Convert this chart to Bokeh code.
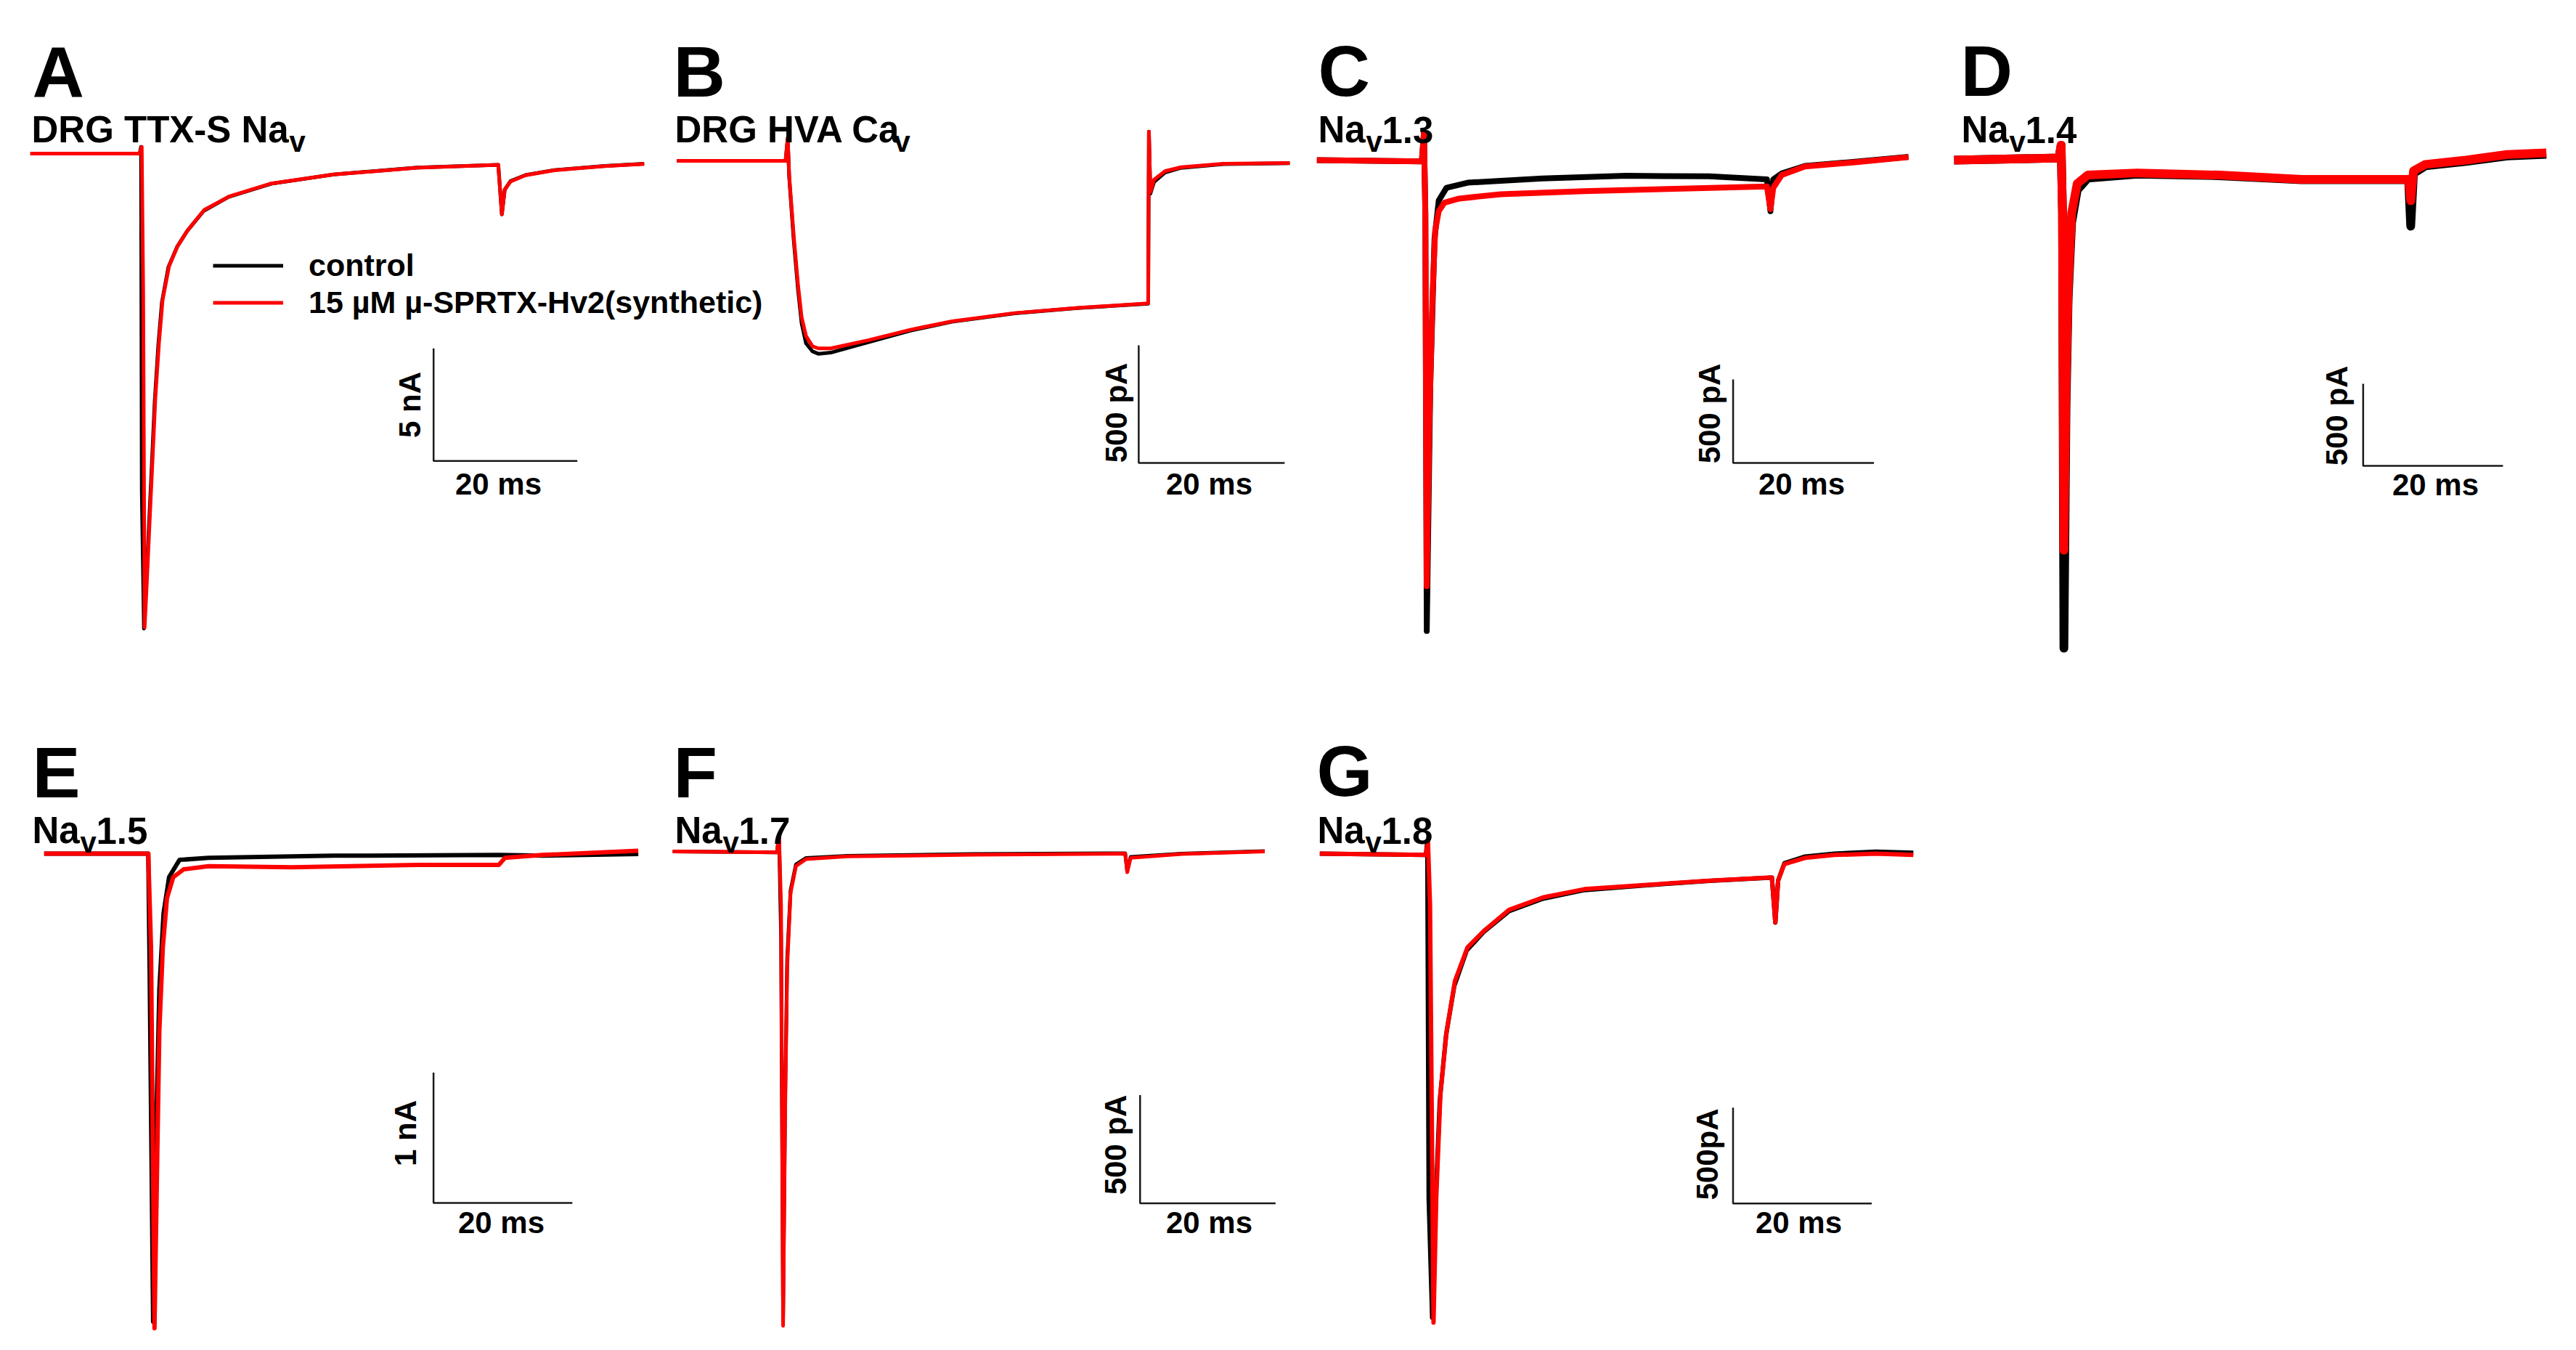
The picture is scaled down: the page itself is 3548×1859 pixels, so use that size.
import math
from bokeh.plotting import figure
from bokeh.models import Range1d, Legend, LegendItem
from bokeh.embed import file_html
from bokeh.resources import INLINE
from bokeh.core.properties import value

# ---------------- data (time in ms, current in nA or pA) ----------------
# A: DRG TTX-S Nav (nA)
A_tox_t = [0, 15.2, 15.5, 15.7, 15.9, 16.2, 16.6, 17.0, 17.4, 17.9, 18.4, 19.3, 20.5, 21.9, 24.2, 27.7, 33.5, 42.2, 53.8, 65.1, 65.6, 66.0, 66.8, 68.9, 72.9, 79.9, 85.4]
A_tox_i = [0, 0, 0.3, -6.1, -21.05, -19.1, -16.3, -13.6, -10.8, -8.4, -6.5, -5.0, -4.1, -3.4, -2.5, -1.9, -1.33, -0.93, -0.63, -0.5, -2.7, -1.6, -1.24, -0.96, -0.74, -0.56, -0.46]
A_ctl_t = [0, 15.2, 15.4, 15.5, 15.8, 16.1, 16.5, 16.9, 17.3, 17.8, 18.3, 19.2, 20.4, 21.8, 24.1, 27.6, 33.5, 42.2, 53.8, 65.1, 65.6, 66.0, 66.8, 68.9, 72.9, 79.9, 85.4]
A_ctl_i = [0, 0, 0.3, -15.0, -21.1, -19.3, -16.5, -13.8, -11.0, -8.5, -6.6, -5.05, -4.15, -3.45, -2.55, -1.92, -1.34, -0.93, -0.62, -0.5, -2.7, -1.6, -1.22, -0.95, -0.73, -0.55, -0.45]

# B: DRG HVA Cav (pA)
B_t = [0, 14.9, 15.2, 15.4, 16.0, 16.6, 17.1, 17.7, 18.6, 19.4, 21.1, 26.3, 32.0, 37.7, 46.3, 54.9, 64.6, 64.7, 64.9, 65.4, 66.9, 69.1, 74.9, 84.0]
B_tox_i = [0, 0, 97, -62, -310, -523, -664, -744, -788, -797, -797, -762, -718, -682, -647, -625, -606, 124, -133, -80, -44, -27, -12, -9]
B_ctl_i = [0, 0, 97, -70, -330, -545, -690, -775, -810, -820, -815, -770, -722, -684, -648, -626, -607, 124, -140, -90, -50, -30, -14, -10]

# C: Nav1.3 (pA)
C_tox_t = [0, 14.9, 15.2, 15.4, 15.6, 15.96, 16.4, 16.8, 17.3, 18.1, 20.2, 26.1, 37.9, 49.8, 63.9, 64.4, 64.8, 66.0, 69.3, 76.4, 84.0]
C_tox_i = [0, -8, 166, -319, -2551, -1594, -829, -421, -306, -255, -230, -204, -186, -173, -158, -293, -166, -89, -38, -13, 18]
C_ctl_t = [0, 14.9, 15.2, 15.4, 15.6, 16.1, 16.7, 17.3, 18.4, 21.4, 32.0, 43.9, 55.7, 63.9, 64.4, 64.8, 66.0, 69.3, 76.4, 84.0]
C_ctl_i = [0, -8, 166, -319, -2819, -1339, -472, -242, -166, -135, -110, -94, -97, -115, -306, -115, -80, -35, -10, 20]

# D: Nav1.4 (pA)
D_t = [0, 15.0, 15.3, 15.5, 15.7, 16.0, 16.3, 16.8, 17.6, 19.1, 26.2, 37.9, 49.7, 65.0, 65.3, 65.7, 67.4, 73.2, 79.1, 84.7]
D_tox_i = [0, 13, 91, -325, -2377, -1364, -792, -325, -143, -91, -78, -91, -117, -117, -247, -65, -26, 0, 34, 44]
D_ctl_i = [0, 13, 91, -325, -2974, -1500, -850, -380, -182, -110, -85, -95, -120, -120, -403, -80, -35, -8, 25, 35]

# E: Nav1.5 (nA)
E_tox_t = [0, 15.0, 15.4, 15.9, 16.3, 16.6, 17.1, 17.7, 18.6, 20.1, 23.7, 35.7, 53.8, 65.5, 66.4, 71.8, 85.6]
E_tox_i = [0, 0, -0.72, -3.64, -2.32, -1.36, -0.72, -0.34, -0.18, -0.12, -0.096, -0.105, -0.086, -0.086, -0.032, -0.01, 0.022]
E_ctl_t = [0, 15.0, 15.2, 15.7, 16.2, 16.6, 17.2, 18.0, 19.5, 23.7, 41.7, 65.5, 71.8, 85.6]
E_ctl_i = [0, 0, -0.91, -3.59, -2.0, -1.04, -0.46, -0.18, -0.048, -0.032, -0.016, -0.01, -0.016, -0.003]

# F: Nav1.7 (pA)
F_t = [0, 15.4, 15.7, 16.0, 16.3, 16.6, 16.9, 17.4, 18.2, 19.7, 25.8, 44.3, 66.8, 67.1, 67.6, 75.1, 87.4]
F_tox_i = [0, -4, 77, -250, -2192, -1212, -538, -192, -67, -35, -23, -15, -10, -96, -29, -12, 0]
F_ctl_i = [0, -4, 77, -400, -2150, -1150, -500, -180, -60, -30, -20, -12, -8, -90, -25, -10, 2]

# G: Nav1.8 (pA)
G_tox_t = [0, 15.3, 15.6, 15.9, 16.4, 16.8, 17.4, 18.3, 19.5, 21.3, 23.7, 27.3, 32.2, 38.2, 47.2, 56.2, 65.2, 65.7, 66.1, 67.0, 70.0, 74.2, 80.2, 85.6]
G_tox_i = [0, -7, 65, -272, -2446, -1793, -1250, -924, -663, -489, -402, -293, -228, -185, -163, -141, -124, -359, -141, -54, -22, -7, 0, -7]
G_ctl_t = [0, 15.3, 15.5, 15.7, 16.2, 16.7, 17.3, 18.2, 19.4, 21.2, 23.6, 27.3, 32.2, 38.2, 47.2, 56.2, 65.2, 65.7, 66.1, 67.0, 70.0, 74.2, 80.2, 85.6]
G_ctl_i = [0, -7, 65, -1800, -2420, -1820, -1290, -950, -690, -505, -410, -300, -235, -190, -165, -142, -125, -360, -140, -50, -15, 0, 10, 5]

panel_letters = ["A", "B", "C", "D", "E", "F", "G"]
title_main = ["DRG TTX-S Na", "DRG HVA Ca", "Na", "Na", "Na", "Na", "Na"]
title_suffix = ["1.3", "1.4", "1.5", "1.7", "1.8"]
amp_labels = ["5 nA", "500 pA", "500 pA", "500 pA", "1 nA", "500 pA", "500pA"]
amp_values = [5, 500, 500, 500, 1, 500, 500]
time_label = "20 ms"
time_bar = 20
legend_labels = ["control", "15 µM µ-SPRTX-Hv2(synthetic)"]

# ---------------- layout (page pixels; the page has no body margin) ----------------
W, H = 3544, 1855
M = 0
# per panel: page x of t=0, px per ms, page y of I=0, px per current unit
geom = {
    "A": (41.3, 9.9, 211, 31.0),
    "B": (931.7, 10.05, 221, 0.324),
    "C": (1813.3, 9.7, 220, 0.23),
    "D": (2691.0, 9.63, 220, 0.226),
    "E": (60.3, 9.56, 1175, 179.5),
    "F": (926.0, 9.33, 1172, 0.298),
    "G": (1817.3, 9.55, 1175, 0.264),
}
# scale bar corner (data units of each panel)
sbar = {"A": (56.1, -13.65), "B": (63.3, -1284), "C": (59.1, -1813), "D": (58.5, -1863),
        "E": (56.1, -2.68), "F": (69.0, -1626), "G": (59.6, -1825)}
traces = {
    "A": (A_ctl_t, A_ctl_i, A_tox_t, A_tox_i, 5),
    "B": (B_t, B_ctl_i, B_t, B_tox_i, 5),
    "C": (C_ctl_t, C_ctl_i, C_tox_t, C_tox_i, 8),
    "D": (D_t, D_ctl_i, D_t, D_tox_i, 12),
    "E": (E_ctl_t, E_ctl_i, E_tox_t, E_tox_i, 6),
    "F": (F_t, F_ctl_i, F_t, F_tox_i, 5),
    "G": (G_ctl_t, G_ctl_i, G_tox_t, G_tox_i, 6),
}

p = figure(width=W, height=H, x_range=Range1d(0, W), y_range=Range1d(H, 0), title=None,
           output_backend="svg", toolbar_location=None, min_border=0,
           x_axis_location=None, y_axis_location=None)
p.grid.visible = False
p.outline_line_color = None
p.background_fill_color = "white"

RED = "#ff0000"
BAR = "#1a1a1a"
renderers = {}
for idx, k in enumerate(panel_letters):
    x0, ppm, y0, ppu = geom[k]
    p.extra_x_ranges[k] = Range1d((M - x0) / ppm, (M + W - x0) / ppm)
    p.extra_y_ranges[k] = Range1d((y0 - (M + H)) / ppu, (y0 - M) / ppu)
    ct, ci, tt, ti, lw = traces[k]
    rc = p.line(ct, ci, x_range_name=k, y_range_name=k, line_color="black", line_width=lw, line_join="round")
    rt = p.line(tt, ti, x_range_name=k, y_range_name=k, line_color=RED, line_width=lw, line_join="round")
    renderers[k] = (rc, rt)
    sx, sy = sbar[k]
    amp = amp_values[idx]
    p.line([sx, sx, sx + time_bar], [sy + amp, sy, sy], x_range_name=k, y_range_name=k,
           line_color=BAR, line_width=2.5)

# ---------------- texts (screen positions in page px) ----------------
FONT = value("Liberation Sans")
letter_xy = [(44, 98), (927, 98), (1815, 97), (2700, 97), (44, 1063), (927, 1063), (1813, 1061)]
p.text([x - M for x, _ in letter_xy], [y - M for _, y in letter_xy], text=panel_letters,
       text_font=FONT, text_font_style="bold", text_font_size=value("99px"),
       text_align="left", text_baseline="alphabetic", text_color="black")

title_xy = [(43, 178), (929, 178), (1815, 178), (2701, 178), (44, 1143), (929, 1143), (1814, 1143)]
sub_dx = [355, 302, 66, 66, 66, 66, 66]
p.text([x - M for x, _ in title_xy], [y - M for _, y in title_xy], text=title_main,
       text_font=FONT, text_font_style="bold", text_font_size=value("51px"),
       text_align="left", text_baseline="alphabetic", text_color="black")
p.text([x - M + d for (x, _), d in zip(title_xy, sub_dx)], [y - M + 16 for _, y in title_xy],
       text=["v"] * 7, text_font=FONT, text_font_style="bold", text_font_size=value("40px"),
       text_align="left", text_baseline="alphabetic", text_color="black")
p.text([x - M + d + 22 for (x, _), d in zip(title_xy[2:], sub_dx[2:])], [y - M for _, y in title_xy[2:]],
       text=title_suffix, text_font=FONT, text_font_style="bold", text_font_size=value("51px"),
       text_align="left", text_baseline="alphabetic", text_color="black")

amp_xy = [(564, 557), (1537, 568), (2354, 569), (3218, 572), (558, 1560), (1536, 1576), (2351, 1589)]
p.text([x - M for x, _ in amp_xy], [y - M for _, y in amp_xy], text=amp_labels, angle=math.pi / 2,
       text_font=FONT, text_font_style="bold", text_font_size=value("42px"),
       text_align="center", text_baseline="middle", text_color="black")
time_xy = [(686, 666), (1665, 666), (2481, 666), (3354, 667), (690, 1683), (1665, 1683), (2477, 1683)]
p.text([x - M for x, _ in time_xy], [y - M for _, y in time_xy], text=[time_label] * 7,
       text_font=FONT, text_font_style="bold", text_font_size=value("42px"),
       text_align="center", text_baseline="middle", text_color="black")

rc, rt = renderers["A"]
leg_left, leg_bottom = 293, 441
legend = Legend(items=[LegendItem(label=legend_labels[0], renderers=[rc]),
                       LegendItem(label=legend_labels[1], renderers=[rt])],
                location=(leg_left - M, (M + H) - leg_bottom), orientation="vertical",
                label_text_font="Liberation Sans", label_text_font_style="bold",
                label_text_color="black",
                label_text_font_size="43px", glyph_width=97, glyph_height=49, label_height=49,
                label_standoff=35, spacing=2, padding=0, margin=0,
                border_line_color=None, background_fill_alpha=0)
p.add_layout(legend)

open("out.html", "w").write(file_html(p, INLINE))
